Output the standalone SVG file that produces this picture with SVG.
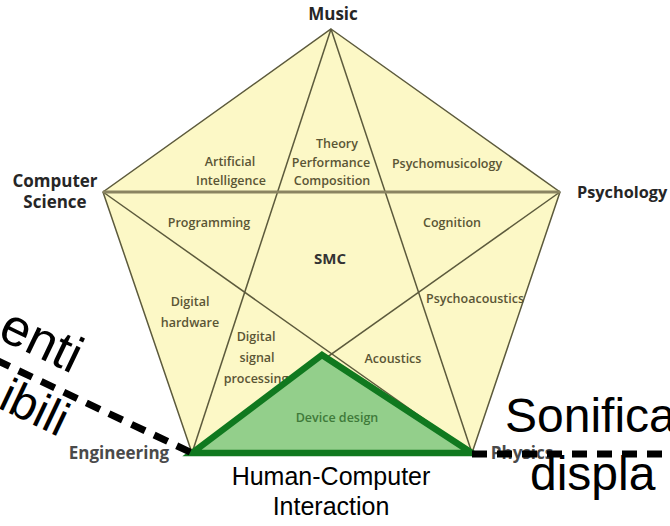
<svg xmlns="http://www.w3.org/2000/svg" width="670" height="526" viewBox="0 0 670 526">
<style>
.lbl{font-family:"Open Sans","DejaVu Sans",sans-serif;font-size:12.5px;font-weight:600;fill:#5a5535;text-anchor:middle}
.vtx{font-family:"Open Sans","DejaVu Sans",sans-serif;font-size:17px;font-weight:700;fill:#262626}
.big{font-family:"Liberation Sans",Arial,sans-serif;font-size:48px;fill:#000}
.hci{font-family:"Liberation Sans",Arial,sans-serif;font-size:25px;fill:#000;text-anchor:middle}
.edge{stroke:#5c5a3c;stroke-width:1.5;fill:none}
.dash{stroke:#000;stroke-width:7;fill:none;stroke-dasharray:15 10}
</style>
<rect width="670" height="526" fill="#fff"/>
<g id="pentagon">
<polygon points="331,29 560,192 472,453 192,453 103,192" fill="#fcf8c6" stroke="none"/>
</g>
<g id="connectors">
<polygon class="edge" points="331,29 560,192 472,453 192,453 103,192"/>
<line class="edge" x1="331" y1="29" x2="192" y2="453"/>
<line class="edge" x1="331" y1="29" x2="472" y2="453"/>
<line class="edge" x1="103" y1="192" x2="472" y2="453"/>
<line class="edge" x1="560" y1="192" x2="192" y2="453"/>
<line x1="103" y1="192" x2="560" y2="192" stroke="#8a8461" stroke-width="3"/>
</g>
<g id="areas">
<text class="lbl" x="230" y="166">Artificial</text>
<text class="lbl" x="231" y="185">Intelligence</text>
<text class="lbl" x="337" y="148">Theory</text>
<text class="lbl" x="331" y="167">Performance</text>
<text class="lbl" x="332" y="185">Composition</text>
<text class="lbl" x="447" y="168">Psychomusicology</text>
<text class="lbl" x="209" y="227">Programming</text>
<text class="lbl" x="452" y="227">Cognition</text>
<text class="lbl" x="330" y="264" style="font-size:15px;font-weight:700;fill:#333">SMC</text>
<text class="lbl" x="190" y="306">Digital</text>
<text class="lbl" x="190" y="327">hardware</text>
<text class="lbl" x="256" y="341">Digital</text>
<text class="lbl" x="257" y="362">signal</text>
<text class="lbl" x="256" y="383">processing</text>
<text class="lbl" x="475" y="303">Psychoacoustics</text>
<text class="lbl" x="393" y="363">Acoustics</text>
</g>
<g id="hci-triangle">
<polygon points="192,453 322,355 472,453" fill="#93cf8b" stroke="#10791f" stroke-width="6.5" stroke-linejoin="miter"/>
<text class="lbl" x="337" y="422" style="fill:#3f7a3a">Device design</text>
</g>
<g id="music"><text class="vtx" x="333" y="20" text-anchor="middle">Music</text></g>
<g id="computer-science">
<text class="vtx" x="55" y="187" text-anchor="middle">Computer</text>
<text class="vtx" x="55" y="208" text-anchor="middle">Science</text>
</g>
<g id="psychology"><text class="vtx" x="577" y="198" style="font-size:16.3px">Psychology</text></g>
<g id="engineering"><text class="vtx" x="119" y="459" text-anchor="middle" style="fill:#4a4a4a">Engineering</text></g>
<g id="physics"><text class="vtx" x="522" y="459" text-anchor="middle" style="fill:#4a4a4a">Physics</text></g>
<g id="dashed-connectors">
<line class="dash" x1="-4" y1="360" x2="192" y2="453"/>
<line class="dash" x1="472" y1="454" x2="670" y2="454"/>
</g>
<g id="accessible-tools">
<text class="big" transform="translate(72,374) rotate(25.5)" text-anchor="end" style="font-size:52px">enti</text>
<text class="big" transform="translate(59,437) rotate(25.5)" text-anchor="end">ibili</text>
</g>
<g id="sonification">
<text class="big" x="505" y="432">Sonifica</text>
<text class="big" x="530" y="490">displa</text>
</g>
<g id="hci-label">
<text class="hci" x="331" y="485">Human-Computer</text>
<text class="hci" x="331" y="515">Interaction</text>
</g>
</svg>
